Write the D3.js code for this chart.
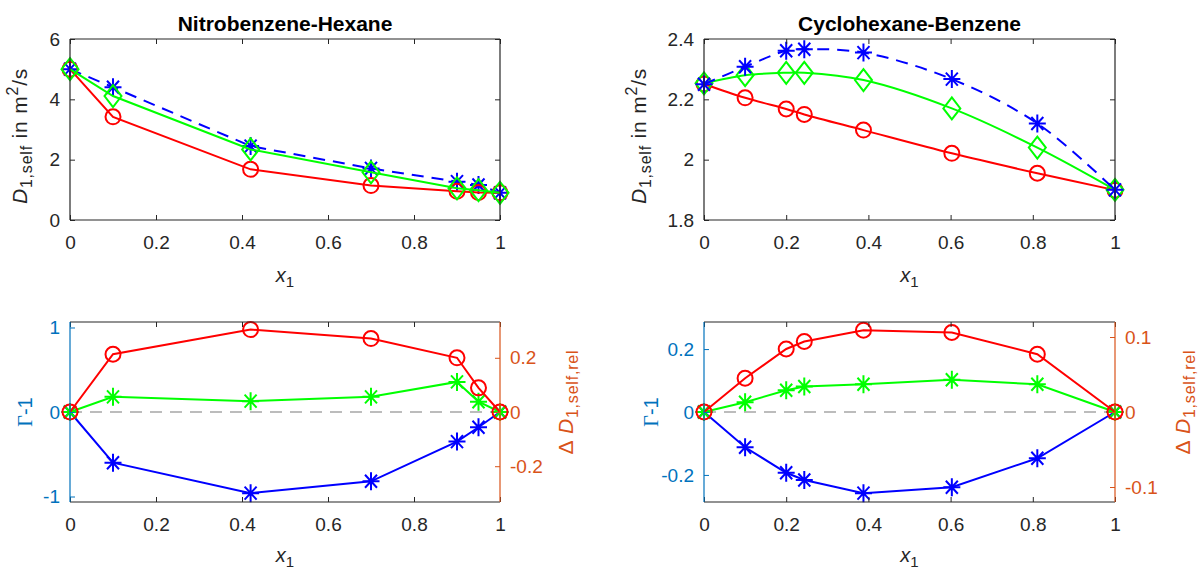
<!DOCTYPE html>
<html>
<head>
<meta charset="utf-8">
<script src="https://cdn.jsdelivr.net/npm/d3@7"></script>
<style>
  body { margin: 0; background: #fff; }
  svg { display: block; font-family: "Liberation Sans", Arial, sans-serif; }
</style>
</head>
<body>
<div id="chart"></div>
<script>
// mole fractions
var xNH = [0, 0.1, 0.42, 0.7, 0.9, 0.95, 1];
var xCB = [0, 0.1, 0.2, 0.244, 0.388, 0.603, 0.811, 1];

// self diffusion, Nitrobenzene-Hexane
var nhRed = [5.0, 3.42, 1.68, 1.14, 0.95, 0.91, 0.9];
var nhBlue = [5.0, 4.4, 2.45, 1.71, 1.27, 1.16, 0.9];
var nhGreen = [5.0, 4.11, 2.34, 1.58, 1.05, 0.99, 0.9];

// self diffusion, Cyclohexane-Benzene
var cbRed = [2.251, 2.205, 2.168, 2.150, 2.098, 2.021, 1.955, 1.899];
var cbGreen = [2.253, 2.280, 2.288, 2.288, 2.264, 2.170, 2.040, 1.9];
var cbBlue = [2.25, 2.308, 2.361, 2.366, 2.355, 2.267, 2.120, 1.9];

// thermodynamic factor - 1 and relative deviations
var nhGamma = [0, -0.60, -0.96, -0.82, -0.35, -0.18, 0];
var nhDevRed = [0, 0.213, 0.304, 0.271, 0.200, 0.089, 0];
var nhDevGreen = [0, 0.056, 0.040, 0.056, 0.111, 0.038, 0];

var cbGamma = [0, -0.112, -0.193, -0.216, -0.258, -0.239, -0.147, 0];
var cbDevRed = [0, 0.045, 0.084, 0.094, 0.109, 0.106, 0.077, 0];
var cbDevGreen = [0, 0.013, 0.029, 0.034, 0.037, 0.043, 0.037, 0];

// ticks
var xTicks = [0, 0.2, 0.4, 0.6, 0.8, 1];
var nhTicks = [0, 2, 4, 6];
var cbTicks = [1.8, 2, 2.2, 2.4];
var nhGammaTicks = [-1, 0, 1];
var nhDevTicks = [-0.2, 0, 0.2];
var cbGammaTicks = [-0.2, 0, 0.2];
var cbDevTicks = [-0.1, 0, 0.1];

var axisCol = '#262626';
var leftCol = '#0072BD';
var rightCol = '#D95319';
var fs = 19;

var svg = d3.select('#chart').append('svg')
  .attr('width', 1202)
  .attr('height', 571);

function fmt(v) { return String(v); }

function marker(g, type, x, y, col) {
  if (type == 'o') {
    g.append('circle').attr('cx', x).attr('cy', y).attr('r', 7.5)
      .attr('fill', 'none').attr('stroke', col).attr('stroke-width', 2);
  } else if (type == 'd') {
    g.append('path')
      .attr('d', 'M' + x + ',' + (y - 11) + 'L' + (x + 8.5) + ',' + y + 'L' + x + ',' + (y + 11) + 'L' + (x - 8.5) + ',' + y + 'Z')
      .attr('fill', 'none').attr('stroke', col).attr('stroke-width', 2);
  } else {
    var p = 'M' + x + ',' + (y - 9) + 'V' + (y + 9) +
      'M' + (x - 8.5) + ',' + y + 'H' + (x + 8.5) +
      'M' + (x - 6) + ',' + (y - 6.5) + 'L' + (x + 6) + ',' + (y + 6.5) +
      'M' + (x - 6) + ',' + (y + 6.5) + 'L' + (x + 6) + ',' + (y - 6.5);
    g.append('path').attr('d', p).attr('fill', 'none').attr('stroke', col).attr('stroke-width', 2);
  }
}

function series(g, xs, ys, x, y, col, type, dashed, curve) {
  var line = d3.line()
    .x(function(d, i) { return x(xs[i]); })
    .y(function(d) { return y(d); })
    .curve(curve || d3.curveLinear);
  g.append('path')
    .attr('d', line(ys))
    .attr('fill', 'none')
    .attr('stroke', col)
    .attr('stroke-width', 2)
    .attr('stroke-dasharray', dashed ? '12,8' : null);
  ys.forEach(function(v, i) { marker(g, type, x(xs[i]), y(v), col); });
}

function xAxis(g, x, top, bottom) {
  var ax = g.append('g').attr('transform', 'translate(0,' + bottom + ')')
    .call(d3.axisBottom(x).tickValues(xTicks).tickSize(-5).tickPadding(16).tickFormat(fmt));
  ax.select('.domain').remove();
  ax.selectAll('line').attr('stroke', axisCol);
  ax.selectAll('text').attr('fill', axisCol).style('font-size', fs + 'px').attr('dy', '0.71em');
  var at = g.append('g').attr('transform', 'translate(0,' + top + ')')
    .call(d3.axisTop(x).tickValues(xTicks).tickSize(-5).tickFormat(''));
  at.select('.domain').remove();
  at.selectAll('line').attr('stroke', axisCol);
  g.append('line').attr('x1', x.range()[0]).attr('x2', x.range()[1])
    .attr('y1', bottom).attr('y2', bottom).attr('stroke', axisCol).attr('stroke-width', 1.2);
  g.append('line').attr('x1', x.range()[0]).attr('x2', x.range()[1])
    .attr('y1', top).attr('y2', top).attr('stroke', axisCol).attr('stroke-width', 1.2);
}

function yAxis(g, y, ticks, xpos, side, col, labels) {
  var gen = side == 'left' ? d3.axisLeft(y) : d3.axisRight(y);
  gen.tickValues(ticks).tickSize(-5).tickPadding(10).tickFormat(labels ? fmt : '');
  var ax = g.append('g').attr('transform', 'translate(' + xpos + ',0)').call(gen);
  ax.select('.domain').remove();
  ax.selectAll('line').attr('stroke', col);
  ax.selectAll('text').attr('fill', col).style('font-size', fs + 'px');
  g.append('line').attr('x1', xpos).attr('x2', xpos)
    .attr('y1', y.range()[0]).attr('y2', y.range()[1]).attr('stroke', col).attr('stroke-width', 1.2);
}

function xLabel(g, cx, y) {
  var t = g.append('text').attr('x', cx).attr('y', y).attr('text-anchor', 'middle')
    .attr('fill', axisCol).style('font-size', '20px');
  t.append('tspan').style('font-style', 'italic').text('x');
  t.append('tspan').attr('dy', 5).style('font-size', '15px').text('1');
}

// rotated labels use slightly larger, wider text like the TeX rendering
function dLabel(g, bx, cy) {
  var t = g.append('text').attr('transform', 'translate(' + bx + ',' + cy + ') rotate(-90)')
    .attr('text-anchor', 'middle').attr('fill', axisCol)
    .style('font-size', '21px').style('letter-spacing', '0.8px');
  t.append('tspan').style('font-style', 'italic').text('D');
  t.append('tspan').attr('dy', 5).style('font-size', '16px').text('1,self');
  t.append('tspan').attr('dy', -5).text(' in m');
  t.append('tspan').attr('dy', -9).style('font-size', '16px').text('2');
  t.append('tspan').attr('dy', 9).text('/s');
}

function gammaLabel(g, bx, cy) {
  var t = g.append('text').attr('transform', 'translate(' + bx + ',' + cy + ') rotate(-90)')
    .attr('text-anchor', 'middle').attr('fill', leftCol).style('font-size', '20px');
  t.append('tspan').style('font-family', '"Liberation Serif", "DejaVu Serif", serif').text('\u0393');
  t.append('tspan').text('-1');
}

function devLabel(g, bx, cy) {
  var t = g.append('text').attr('transform', 'translate(' + bx + ',' + cy + ') rotate(-90)')
    .attr('text-anchor', 'middle').attr('fill', rightCol)
    .style('font-size', '21px').style('letter-spacing', '0.8px');
  t.append('tspan').text('\u0394 ');
  t.append('tspan').style('font-style', 'italic').text('D');
  t.append('tspan').attr('dy', 5).style('font-size', '16px').text('1,self,rel');
}

function title(g, cx, text) {
  g.append('text').attr('x', cx).attr('y', 31).attr('text-anchor', 'middle')
    .attr('fill', '#000').style('font-size', '21px').style('font-weight', 'bold').text(text);
}

// ---------- top panels ----------
function topPanel(left, right, xs, yDomain, yTicks, red, green, blue, name, labelX, curve, blueFirst) {
  var g = svg.append('g');
  var x = d3.scaleLinear().domain([0, 1]).range([left, right]);
  var y = d3.scaleLinear().domain(yDomain).range([220, 39]);
  if (blueFirst) series(g, xs, blue, x, y, '#0000FF', '*', true, curve);
  series(g, xs, red, x, y, '#FF0000', 'o', false, curve);
  series(g, xs, green, x, y, '#00FF00', 'd', false, curve);
  if (!blueFirst) series(g, xs, blue, x, y, '#0000FF', '*', true, curve);
  xAxis(g, x, 39, 220);
  yAxis(g, y, yTicks, left, 'left', axisCol, true);
  yAxis(g, y, yTicks, right, 'right', axisCol, false);
  title(g, (left + right) / 2, name);
  xLabel(g, (left + right) / 2, 282);
  dLabel(g, labelX, 136);
}

topPanel(70, 500, xNH, [0, 6], nhTicks, nhRed, nhGreen, nhBlue, 'Nitrobenzene-Hexane', 27, d3.curveLinear, true);
topPanel(704, 1115, xCB, [1.8, 2.4], cbTicks, cbRed, cbGreen, cbBlue, 'Cyclohexane-Benzene', 646, d3.curveCatmullRom.alpha(0.5), false);

// ---------- bottom panels ----------
function bottomPanel(left, right, xs, gLim, dLim, gTicks, dTicks, gamma, devRed, devGreen, gx, dx) {
  var g = svg.append('g');
  var x = d3.scaleLinear().domain([0, 1]).range([left, right]);
  var yl = d3.scaleLinear().domain([-gLim, gLim]).range([502, 322]);
  var yr = d3.scaleLinear().domain([-dLim, dLim]).range([502, 322]);
  g.append('line').attr('x1', x(0)).attr('x2', x(1)).attr('y1', yl(0)).attr('y2', yl(0))
    .attr('stroke', '#A6A6A6').attr('stroke-width', 1.5).attr('stroke-dasharray', '12,8');
  series(g, xs, gamma, x, yl, '#0000FF', '*', false);
  series(g, xs, devGreen, x, yr, '#00FF00', '*', false);
  series(g, xs, devRed, x, yr, '#FF0000', 'o', false);
  xAxis(g, x, 322, 502);
  yAxis(g, yl, gTicks, left, 'left', leftCol, true);
  yAxis(g, yr, dTicks, right, 'right', rightCol, true);
  xLabel(g, (left + right) / 2, 562);
  gammaLabel(g, gx, 412);
  devLabel(g, dx, 402);
}

bottomPanel(70, 500, xNH, 1.065, 0.332, nhGammaTicks, nhDevTicks, nhGamma, nhDevRed, nhDevGreen, 32, 573);
bottomPanel(704, 1115, xCB, 0.286, 0.12, cbGammaTicks, cbDevTicks, cbGamma, cbDevRed, cbDevGreen, 658, 1190);
</script>
</body>
</html>
